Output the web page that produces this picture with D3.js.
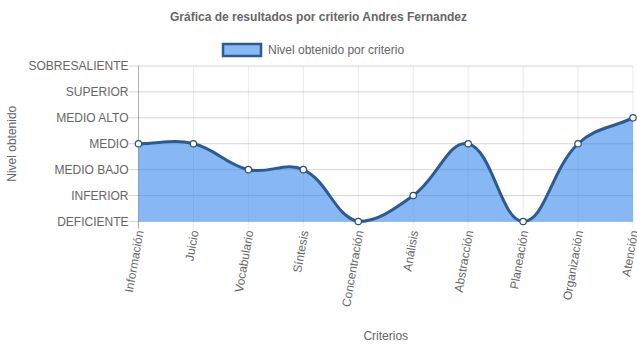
<!DOCTYPE html>
<html><head><meta charset="utf-8">
<script src="https://cdn.jsdelivr.net/npm/d3@7"></script>
<style>body{margin:0;background:#fff}svg{display:block}text{font-family:"Liberation Sans",Arial,Helvetica,sans-serif}</style>
</head><body><svg id="c" width="637" height="348"></svg>
<script>
const categories = ["Información","Juicio","Vocabulario","Síntesis","Concentración","Análisis","Abstracción","Planeación","Organización","Atención"];
const levelLabels = ["DEFICIENTE","INFERIOR","MEDIO BAJO","MEDIO","MEDIO ALTO","SUPERIOR","SOBRESALIENTE"];
const values = [3,3,2,2,0,1,3,0,3,4];
const seriesName = "Nivel obtenido por criterio";
const title = "Gráfica de resultados por criterio Andres Fernandez";

const svg = d3.select("#c");
const L = 138.5, R = 633, T = 66, B = 221.5;
const x = d3.scalePoint().domain(categories).range([L, R]);
const y = d3.scaleLinear().domain([0, levelLabels.length - 1]).range([B, T]);
const txt = "#666";

// vertical grid
svg.append("g").selectAll("line").data(categories).join("line")
  .attr("x1", d => x(d)).attr("x2", d => x(d)).attr("y1", T).attr("y2", B + 7)
  .attr("stroke", "rgba(0,0,0,0.08)").attr("stroke-width", 1);
// horizontal grid
svg.append("g").selectAll("line").data(d3.range(levelLabels.length)).join("line")
  .attr("x1", L - 10).attr("x2", R).attr("y1", d => y(d)).attr("y2", d => y(d))
  .attr("stroke", "rgba(0,0,0,0.17)").attr("stroke-width", 1);
// axis line
svg.append("line").attr("x1", L).attr("x2", L).attr("y1", T).attr("y2", B + 7)
  .attr("stroke", "rgba(0,0,0,0.25)");

// y labels
svg.append("g").selectAll("text").data(levelLabels).join("text")
  .attr("x", L - 10).attr("y", (d, i) => y(i)).attr("dy", "0.35em")
  .attr("text-anchor", "end").attr("font-size", 12).attr("fill", txt).text(d => d);

// x labels
svg.append("g").selectAll("text").data(categories).join("text")
  .attr("transform", d => `translate(${x(d) + 1},${B + 9}) rotate(-80)`)
  .attr("text-anchor", "end").attr("dy", "0.35em")
  .attr("font-size", 12).attr("fill", txt).text(d => d);

// Chart.js-style spline control points
const pts = values.map((v, i) => [x(categories[i]), y(v)]);
const t = 0.4;
const ctrl = pts.map((p, i) => {
  const prev = pts[i - 1] || p, next = pts[i + 1] || p;
  const d01 = Math.hypot(p[0] - prev[0], p[1] - prev[1]);
  const d12 = Math.hypot(next[0] - p[0], next[1] - p[1]);
  let s01 = d01 / (d01 + d12), s12 = d12 / (d01 + d12);
  if (isNaN(s01)) s01 = 0; if (isNaN(s12)) s12 = 0;
  const fa = t * s01, fb = t * s12;
  const cap = (q) => [Math.max(L, Math.min(R, q[0])), Math.max(T, Math.min(B, q[1]))];
  return {
    prev: cap([p[0] - fa * (next[0] - prev[0]), p[1] - fa * (next[1] - prev[1])]),
    next: cap([p[0] + fb * (next[0] - prev[0]), p[1] + fb * (next[1] - prev[1])])
  };
});
function linePath(path) {
  path.moveTo(pts[0][0], pts[0][1]);
  for (let i = 1; i < pts.length; i++) {
    const a = ctrl[i - 1].next, b = ctrl[i].prev;
    path.bezierCurveTo(a[0], a[1], b[0], b[1], pts[i][0], pts[i][1]);
  }
  return path;
}
const area = linePath(d3.path());
area.lineTo(pts[pts.length - 1][0], B); area.lineTo(pts[0][0], B); area.closePath();
svg.append("path").attr("d", area.toString()).attr("fill", "rgba(45,130,235,0.57)");
svg.append("path").attr("d", linePath(d3.path()).toString())
  .attr("fill", "none").attr("stroke", "#2d5a91").attr("stroke-width", 3);
svg.append("g").selectAll("circle").data(pts).join("circle")
  .attr("cx", d => d[0]).attr("cy", d => d[1]).attr("r", 3.2)
  .attr("fill", "#fff").attr("stroke", "#2a4f7c").attr("stroke-width", 1.2);

// title
svg.append("text").attr("x", 318.5).attr("y", 17).attr("dy", "0.35em").attr("text-anchor", "middle")
  .attr("font-size", 12).attr("font-weight", "bold").attr("fill", txt).text(title);
// legend
svg.append("rect").attr("x", 223).attr("y", 44).attr("width", 38).attr("height", 12)
  .attr("fill", "#89b9f5").attr("stroke", "#2d5a91").attr("stroke-width", 2.5);
svg.append("text").attr("x", 268).attr("y", 50).attr("dy", "0.35em")
  .attr("font-size", 12).attr("fill", txt).text(seriesName);
// axis titles
svg.append("text").attr("transform", `translate(12,${(T + B) / 2}) rotate(-90)`).attr("dy", "0.35em")
  .attr("text-anchor", "middle").attr("font-size", 12).attr("fill", txt).text("Nivel obtenido");
svg.append("text").attr("x", (L + R) / 2).attr("y", 336).attr("dy", "0.35em")
  .attr("text-anchor", "middle").attr("font-size", 12).attr("fill", txt).text("Criterios");
</script></body></html>
